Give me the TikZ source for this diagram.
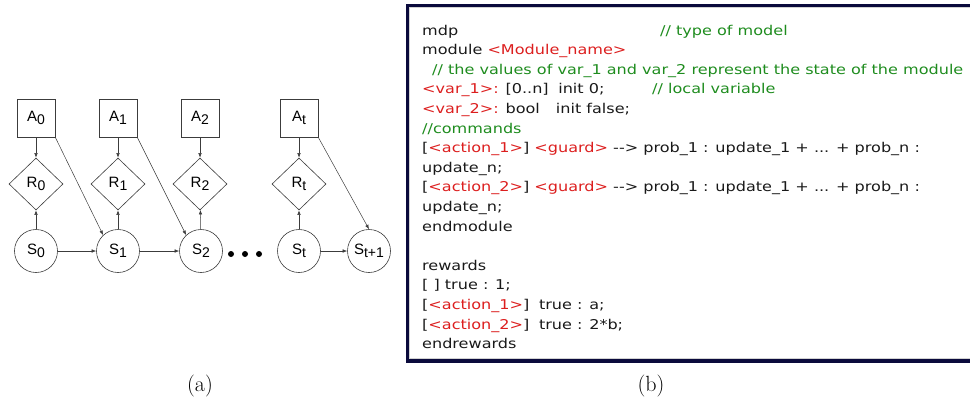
\documentclass[tikz,border=0pt]{standalone}
\usepackage{fontspec}
\usetikzlibrary{shapes.geometric,arrows.meta}
\newfontfamily\labfont{Liberation Sans}
\newfontfamily\codefont{DejaVu Sans}
\definecolor{codered}{RGB}{220,30,30}
\definecolor{codegreen}{RGB}{30,140,30}
\definecolor{navyb}{RGB}{10,10,60}
\definecolor{linegray}{RGB}{60,60,60}
\newcommand{\lsub}[1]{\raisebox{-3.5pt}{\fontsize{14}{14}\selectfont #1}}
\newcommand{\rd}[1]{\textcolor{codered}{#1}}
\newcommand{\gr}[1]{\textcolor{codegreen}{#1}}
\newcommand{\dd}{\mbox{-}\mbox{-}>}
\newcommand{\cl}[1]{\scalebox{1.19}[1]{#1}}
\begin{document}
\begin{tikzpicture}[x=1pt,y=-1pt,
  abox/.style={draw=linegray, line width=0.6pt, minimum size=38pt, inner sep=0pt, font=\labfont\fontsize{15}{15}\selectfont},
  rdia/.style={diamond, draw=linegray, line width=0.6pt, minimum width=54pt, minimum height=52pt, inner sep=0pt, font=\labfont\fontsize{15}{15}\selectfont},
  scirc/.style={circle, draw=linegray, line width=0.6pt, minimum size=43pt, inner sep=0pt, font=\labfont\fontsize{15}{15}\selectfont},
  arr/.style={-{Latex[length=4.5pt,width=3.5pt]}, draw=linegray, line width=0.5pt},
  codeline/.style={anchor=base west, inner sep=0pt, font=\codefont\fontsize{13.5}{13.5}\selectfont, text=black!90},
  capt/.style={inner sep=0pt, font=\fontsize{22}{22}\selectfont}
]
\useasboundingbox (0,0) rectangle (970,402);
% ---- left diagram
\node[abox] (A0) at (36,118) {A\lsub{0}};
\node[abox] (A1) at (118,118) {A\lsub{1}};
\node[abox] (A2) at (200,118) {A\lsub{2}};
\node[abox] (At) at (299,118) {A\lsub{t}};
\node[rdia] (R0) at (36,184) {R\lsub{0}};
\node[rdia] (R1) at (118,184) {R\lsub{1}};
\node[rdia] (R2) at (200,184) {R\lsub{2}};
\node[rdia] (Rt) at (299,184) {R\lsub{t}};
\node[scirc] (S0) at (36,251) {S\lsub{0}};
\node[scirc] (S1) at (118,251) {S\lsub{1}};
\node[scirc] (S2) at (201,251) {S\lsub{2}};
\node[scirc] (St) at (299,251) {S\lsub{t}};
\node[scirc] (St1) at (369,251) {S\lsub{t+1}};
\foreach \i/\xx in {1/231,2/245,3/259}
  \node[circle, fill=black, inner sep=0pt, minimum size=6pt] (d\i) at (\xx,254) {};
\foreach \n in {0,1,2,t} {
  \draw[arr] (A\n) -- (R\n);
  \draw[arr] (S\n) -- (R\n);
}
\draw[arr] (S0) -- (S1);
\draw[arr] (S1) -- (S2);
\draw[arr] (St) -- (St1);
\draw[arr] (A0.south east) -- (S1.133);
\draw[arr] (A1.south east) -- (S2.133);
\draw[arr] (At.south east) -- (St1.north);
% ---- right panel
\draw[gray!35, line width=0.8pt] (409.5,7.8) rectangle (980,358.7);
\draw[navyb, line width=3.8pt] (407.5,5.5) rectangle (980,361);
\node[codeline] (l0) at (422,35) {\cl{mdp}};
\node[codeline] (c0) at (660,35) {\cl{\gr{// type of model}}};
\node[codeline] (l1) at (422,54.6) {\cl{module \rd{<Module\_name>}}};
\node[codeline] (l2) at (432,74.2) {\cl{\gr{// the values of var\_1 and var\_2 represent the state of the module}}};
\node[codeline] (l3) at (422,93.8) {\cl{\rd{<var\_1>:} [0..n]\hspace{0.6em}init 0;}};
\node[codeline] (c3) at (652,93.8) {\cl{\gr{// local variable}}};
\node[codeline] (l4) at (422,113.4) {\cl{\rd{<var\_2>:} bool\hspace{1em}init false;}};
\node[codeline] (l5) at (422,133) {\cl{\gr{//commands}}};
\node[codeline] (l6) at (422,152.6) {\cl{[\rd{<action\_1>}] \rd{<guard>} \dd{} prob\_1 : update\_1 + ... + prob\_n :}};
\node[codeline] (l7) at (422,172.2) {\cl{update\_n;}};
\node[codeline] (l8) at (422,191.8) {\cl{[\rd{<action\_2>}] \rd{<guard>} \dd{} prob\_1 : update\_1 + ... + prob\_n :}};
\node[codeline] (l9) at (422,211.4) {\cl{update\_n;}};
\node[codeline] (l10) at (422,231) {\cl{endmodule}};
\node[codeline] (l12) at (422,270.2) {\cl{rewards}};
\node[codeline] (l13) at (422,289.8) {\cl{[ ] true : 1;}};
\node[codeline] (l14) at (422,309.4) {\cl{[\rd{<action\_1>}]\hspace{0.6em}true : a;}};
\node[codeline] (l15) at (422,329) {\cl{[\rd{<action\_2>}]\hspace{0.6em}true : 2*b;}};
\node[codeline] (l16) at (422,348.6) {\cl{endrewards}};
% captions
\node[capt] (ca) at (200,386) {(a)};
\node[capt] (cb) at (651,386) {(b)};
\end{tikzpicture}
\end{document}
